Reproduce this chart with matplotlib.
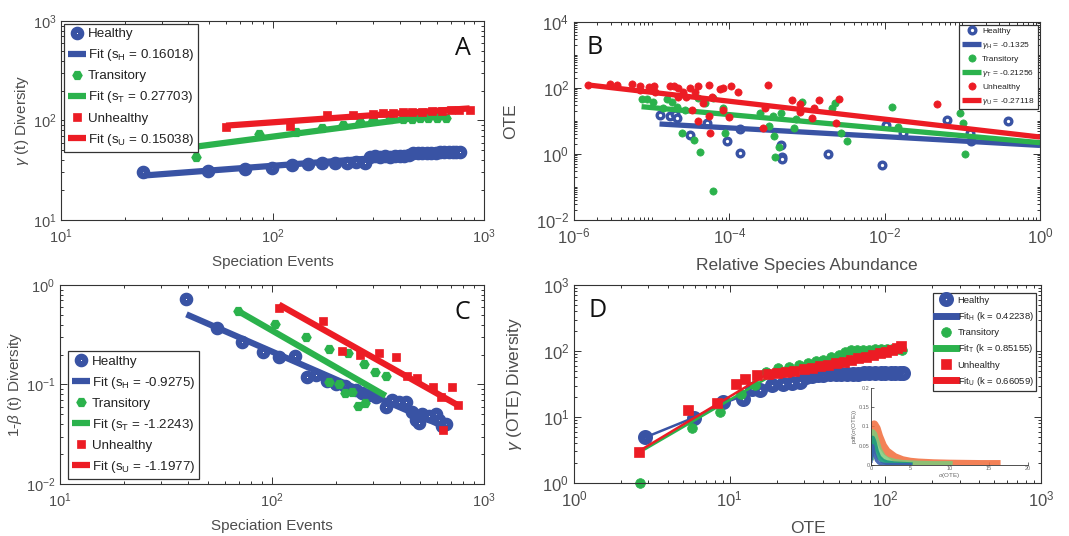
import numpy as np
import matplotlib
matplotlib.use("Agg")
import matplotlib.pyplot as plt
from matplotlib.ticker import LogLocator, FixedLocator, NullFormatter

plt.rcParams['font.family'] = ['Liberation Sans', 'DejaVu Sans']
plt.rcParams['mathtext.fontset'] = 'custom'
plt.rcParams['mathtext.rm'] = 'Liberation Sans'
plt.rcParams['mathtext.it'] = 'Liberation Sans:italic'

BLUE = '#3953a4'
GREEN = '#2bb24c'
RED = '#ec1c24'
TXT = '#4d4d4d'

# ---- panel A: gamma diversity vs speciation events
a_heal_x = [24.5, 49.3, 74, 99, 123, 147, 172, 197, 224, 249, 273, 288, 305, 321, 340, 359,
            380, 400, 420, 440, 462, 485, 510, 535, 560, 590, 620, 650, 680, 710, 740, 767]
a_heal_y = [30, 31.3, 32.2, 33, 35.6, 36.5, 37, 37.6, 37.6, 37.9, 37, 43.2, 43.5, 43.2, 43.5, 43.3,
            43.6, 43.8, 44, 44.5, 46.7, 46.9, 47.2, 47.3, 47.5, 47.6, 47.8, 47.9, 47.9, 48, 48, 47.8]
a_tran_x = [43.5, 86.5, 129, 172, 216, 259, 299, 359, 414, 454, 497, 545, 596, 664]
a_tran_y = [43.2, 72.4, 76.9, 84.4, 91, 97, 101, 103, 104, 104, 105, 105, 105, 105]
a_unhe_x = [60.3, 121, 181, 240, 299, 333, 370, 412, 458, 510, 566, 630, 700, 765, 855]
a_unhe_y = [86.3, 87.6, 113, 113, 117, 119, 120, 121, 122, 123, 124, 125, 126, 126, 127]
a_slopes = [0.16018, 0.27703, 0.15038]

# ---- panel B: OTE vs relative species abundance
b_heal_x = [1.26e-5, 1.7e-5, 2.0e-5, 2.1e-5, 3.1e-5, 5.1e-5, 9.2e-5, 1.35e-4, 1.38e-4, 4.6e-4,
            4.7e-4, 4.8e-4, 1.85e-3, 9.1e-3, 0.0103, 0.0174, 0.063, 0.126, 0.128, 0.39]
b_heal_y = [15.2, 14, 16, 12, 3.77, 8.5, 2.5, 5.6, 1.1, 1.9,
            0.83, 0.69, 0.98, 0.46, 7.6, 4.2, 10.7, 4.2, 2.5, 10.2]
b_tran_x = [7.4e-6, 8.6e-6, 1.05e-5, 1.4e-5, 1.56e-5, 1.8e-5, 2.1e-5, 2.43e-5, 2.7e-5, 3.46e-5,
            4e-5, 4.2e-5, 4.9e-5, 6.2e-5, 6.2e-5, 8.2e-5, 8.7e-5, 2.5e-4, 3.2e-4, 3.6e-4,
            3.8e-4, 3.9e-4, 4.4e-4, 4.6e-4, 6.7e-4, 7.3e-4, 8.7e-4, 2.1e-3, 2.3e-3, 2.7e-3,
            3.3e-3, 0.0126, 0.015, 0.093, 0.103, 0.108]
b_tran_y = [45, 45, 38, 24, 45, 38, 27, 4.2, 21.5, 2.65,
            48, 1.18, 34, 48, 0.078, 24, 4.2, 17, 7.2, 14.5,
            3.5, 0.79, 1.67, 17, 6, 11.2, 38, 24, 34, 4.4,
            2.4, 27, 6.7, 17, 8.9, 1.0]
b_unhe_x = [1.53e-6, 2.9e-6, 3.6e-6, 5.5e-6, 7.1e-6, 7.1e-6, 9.1e-6, 1.07e-5, 1.1e-5, 1.7e-5,
            1.95e-5, 2.2e-5, 2.2e-5, 2.5e-5, 2.8e-5, 3.1e-5, 3.3e-5, 3.6e-5, 4e-5, 4e-5,
            4.6e-5, 5.4e-5, 5.5e-5, 5.6e-5, 5.9e-5, 7.6e-5, 8.4e-5, 8.2e-5, 1e-4, 1.05e-4,
            1.3e-4, 2.7e-4, 2.9e-4, 3.1e-4, 6.4e-4, 8.1e-4, 8.2e-4, 1.15e-3, 1.22e-3, 1.44e-3,
            2.36e-3, 2.6e-3, 0.047]
b_unhe_y = [123, 128, 123, 128, 118, 87, 105, 118, 78, 115,
            118, 98, 55, 78, 55, 98, 21.6, 78, 115, 10.2,
            34, 123, 14.2, 4.4, 55, 92, 98, 21.6, 13.5, 115,
            78, 6, 24.3, 123, 43, 33, 19, 12, 24, 43,
            8.9, 45, 32]
b_slopes = [-0.1325, -0.21256, -0.27118]
b_fit_at_one = [1.82, 2.2, 3.26]   # fitted OTE at abundance 1

# ---- panel C: 1-beta diversity vs speciation events
c_heal_x = [39.5, 55.2, 71.9, 90.4, 108, 129, 147, 161, 182, 200, 222, 249, 267, 287, 308, 344,
            370, 398, 427, 460, 476, 494, 512, 550, 591, 614, 636, 660]
c_heal_y = [0.718, 0.367, 0.269, 0.214, 0.1875, 0.193, 0.12, 0.125, 0.109, 0.101, 0.097, 0.088,
            0.083, 0.078, 0.075, 0.06, 0.07, 0.066, 0.067, 0.0533, 0.044, 0.0407, 0.0505, 0.0477,
            0.0505, 0.044, 0.038, 0.04]
c_tran_x = [69.4, 103, 144, 186, 229, 272, 306, 344, 186, 207, 222, 239, 255, 275]
c_tran_y = [0.552, 0.405, 0.303, 0.227, 0.206, 0.161, 0.134, 0.122, 0.105, 0.101, 0.0815, 0.085,
            0.0613, 0.0657]
c_unhe_x = [108, 174, 215, 260, 320, 386, 434, 485, 575, 625, 705, 751, 643]
c_unhe_y = [0.583, 0.435, 0.217, 0.198, 0.206, 0.19, 0.1217, 0.115, 0.094, 0.0755, 0.095, 0.0622,
            0.0349]
c_slopes = [-0.9275, -1.2243, -1.1977]

# ---- panel D: gamma diversity vs OTE
d_heal_x = [2.86, 5.9, 9.0, 12.2, 13.8, 15.7, 18.6, 21.9, 25, 28.3, 31, 34, 37, 40, 44, 48, 52,
            57, 62, 67, 73, 79, 86, 93, 100, 108, 116, 124, 130]
d_heal_y = [4.9, 9.8, 16.9, 19, 26.3, 25.4, 30.1, 32, 33, 33.9, 40.3, 42, 43, 44, 44.5, 45, 45.2,
            45.4, 45.5, 45.5, 45.6, 45.6, 45.7, 45.7, 45.7, 45.8, 45.8, 45.8, 45.8]
d_tran_x = [2.65, 5.7, 8.66, 11.9, 14.5, 17, 20.5, 24, 28, 32, 36, 40, 45, 50, 55, 60, 66, 72,
            79, 86, 94, 102, 110, 118, 127]
d_tran_y = [1.0, 6.8, 11.7, 22.6, 30.3, 48, 55, 58, 62, 66, 70, 74, 80, 88, 97, 103, 104, 105,
            105, 106, 106, 107, 107, 108, 103]
d_unhe_x = [2.63, 5.43, 8.24, 10.97, 12.5, 14.9, 17.5, 20, 23, 26, 30, 34, 38, 43, 48, 54, 60,
            67, 75, 83, 92, 101, 110, 118, 125]
d_unhe_y = [2.97, 12.7, 16.4, 31.3, 37.8, 43.4, 45, 46, 48, 50, 53, 56, 59, 62, 65, 69, 73, 77,
            82, 87, 92, 97, 102, 110, 118]
d_fit_heal_x = [2.86, 5.9, 9.0, 12.2, 17, 25, 40, 130]
d_fit_heal_y = [4.9, 9.8, 16, 21, 30, 37, 43, 45.8]
d_fit_tran_x = [2.86, 20]
d_fit_tran_y = [3.26, 47]
d_fit_unhe_x = [2.63, 17.5]
d_fit_unhe_y = [3.07, 45]
d_k = [0.42238, 0.85155, 0.66059]

# ---- inset: pdf of sigma(OTE)
ins_x = [0, 0.2, 0.4, 0.7, 1.0, 1.5, 2, 3, 4, 5, 6, 8, 10, 12, 14, 16.5]
ins_orange = [0.03, 0.095, 0.105, 0.095, 0.075, 0.05, 0.035, 0.02, 0.012, 0.008, 0.006, 0.004,
              0.003, 0.0025, 0.002, 0.002]
ins_green = [0.02, 0.085, 0.08, 0.06, 0.04, 0.022, 0.014, 0.008, 0.005, 0.004, 0.003, 0.002, 0.002]
ins_teal = [0.02, 0.07, 0.06, 0.035, 0.02, 0.01, 0.006, 0.003, 0.002, 0.001]
ins_blue = [0.01, 0.05, 0.03, 0.012, 0.005, 0.002, 0.001, 0.001, 0.0005, 0.0005]

colors = [BLUE, GREEN, RED]
names = ['Healthy', 'Transitory', 'Unhealthy']
subs = ['H', 'T', 'U']


def fixed_slope_fit(x, y, s):
    # prefactor of y = A x^s by least squares in log space
    x = np.asarray(x, float)
    y = np.asarray(y, float)
    return np.exp(np.mean(np.log(y) - s * np.log(x)))


def style_axes(ax, xmajor, ymajor, fs):
    ax.set_xscale('log')
    ax.set_yscale('log')
    ax.xaxis.set_major_locator(FixedLocator(xmajor))
    ax.yaxis.set_major_locator(FixedLocator(ymajor))
    ax.xaxis.set_minor_locator(LogLocator(base=10, subs=np.arange(2, 10), numticks=30))
    ax.yaxis.set_minor_locator(LogLocator(base=10, subs=np.arange(2, 10), numticks=30))
    ax.xaxis.set_minor_formatter(NullFormatter())
    ax.yaxis.set_minor_formatter(NullFormatter())
    ax.tick_params(which='both', direction='in', top=True, right=True, colors='#333333',
                   labelcolor=TXT, labelsize=fs, width=0.7)
    ax.tick_params(which='major', length=5)
    ax.tick_params(which='minor', length=2.5)
    ax.tick_params(axis='x', pad=5)
    for sp in ax.spines.values():
        sp.set_color('#333333')
        sp.set_linewidth(0.8)


def make_legend(ax, fs, loc, anchor, hl, ls):
    leg = ax.legend(loc=loc, bbox_to_anchor=anchor, fontsize=fs, handlelength=hl,
                    handletextpad=0.15, labelspacing=ls, borderpad=0.3, borderaxespad=0,
                    fancybox=False, framealpha=1, edgecolor='#333333')
    leg.get_frame().set_linewidth(0.9)
    for t in leg.get_texts():
        t.set_color('#222222')
    return leg


def scatter_fit_panel(ax, data, markers, slopes, line_w, fit_ends=None, fit_amp=None):
    for i, ((x, y), c, n, sb, s, mk) in enumerate(zip(data, colors, names, subs, slopes, markers)):
        kw = dict(mk)
        kw.setdefault('mfc', c)
        ax.plot(x, y, ls='none', color=c, mec=c, label=n, **kw)
        amp = fixed_slope_fit(x, y, s) if fit_amp is None else fit_amp[i]
        hi = max(x) if fit_ends is None else fit_ends
        xf = np.array([min(x), hi])
        lab = ('Fit (s$_\\mathrm{%s}$ = %.5g)' % (sb, s)) if fit_amp is None else \
              ('$\\gamma_\\mathrm{%s}$ = %.5g' % (sb, s))
        ax.plot(xf, amp * xf ** s, color=c, lw=line_w, solid_capstyle='butt', label=lab)


fig = plt.figure(figsize=(10.69, 5.36), dpi=100)

# ---------- A
axA = fig.add_axes([0.0571, 0.5896, 0.3957, 0.3713])
mk_A = [dict(marker='o', ms=5.4, mew=4.4, mfc='white'),
        dict(marker='H', ms=6.5, mew=1.0),
        dict(marker='s', ms=5.5, mew=0.5)]
scatter_fit_panel(axA, [(a_heal_x, a_heal_y), (a_tran_x, a_tran_y), (a_unhe_x, a_unhe_y)],
                  mk_A, a_slopes, 4.5)
style_axes(axA, [10, 100, 1000], [10, 100, 1000], 10.5)
axA.set_xlim(10, 1000)
axA.set_ylim(10, 1000)
axA.set_xlabel('Speciation Events', fontsize=11, color=TXT, labelpad=7)
axA.set_ylabel(r'$\gamma$ (t) Diversity', fontsize=11, color=TXT, labelpad=1)
axA.text(0.95, 0.86, 'A', transform=axA.transAxes, fontsize=18, family='Open Sans',
         ha='center', va='center', color='#111111')
make_legend(axA, 9.6, 'upper left', (0.008, 0.985), 1.3, 0.52)

# ---------- B
axB = fig.add_axes([0.537, 0.5896, 0.4359, 0.3694])
mk_B = [dict(marker='o', ms=4.8, mew=2.4, mfc='white'),
        dict(marker='o', ms=5.2, mew=0.5),
        dict(marker='o', ms=5.2, mew=0.5)]
scatter_fit_panel(axB, [(b_heal_x, b_heal_y), (b_tran_x, b_tran_y), (b_unhe_x, b_unhe_y)],
                  mk_B, b_slopes, 3.8, fit_ends=1.0, fit_amp=b_fit_at_one)
style_axes(axB, [1e-6, 1e-4, 1e-2, 1], [1e-2, 1, 1e2, 1e4], 12)
axB.yaxis.set_minor_locator(LogLocator(base=10, subs=np.arange(1, 10), numticks=30))
axB.xaxis.set_minor_locator(LogLocator(base=10, subs=np.arange(1, 10), numticks=30))
axB.set_xlim(1e-6, 1)
axB.set_ylim(1e-2, 1e4)
axB.set_xlabel('Relative Species Abundance', fontsize=12.5, color=TXT, labelpad=8)
axB.set_ylabel('OTE', fontsize=12.5, color=TXT, labelpad=13)
axB.text(0.045, 0.87, 'B', transform=axB.transAxes, fontsize=18, family='Open Sans',
         ha='center', va='center', color='#111111')
make_legend(axB, 6.0, 'upper right', (0.995, 0.985), 2.3, 0.55)

# ---------- C
axC = fig.add_axes([0.0561, 0.097, 0.3966, 0.3713])
scatter_fit_panel(axC, [(c_heal_x, c_heal_y), (c_tran_x, c_tran_y), (c_unhe_x, c_unhe_y)],
                  mk_A, c_slopes, 4.5)
style_axes(axC, [10, 100, 1000], [1e-2, 1e-1, 1], 10.5)
axC.set_xlim(10, 1000)
axC.set_ylim(1e-2, 1)
axC.set_xlabel('Speciation Events', fontsize=11, color=TXT, labelpad=7)
axC.set_ylabel(r'1-$\beta$ (t) Diversity', fontsize=11, color=TXT, labelpad=1)
axC.text(0.95, 0.86, 'C', transform=axC.transAxes, fontsize=18, family='Open Sans',
         ha='center', va='center', color='#111111')
make_legend(axC, 9.6, 'lower left', (0.02, 0.025), 1.3, 0.52)

# ---------- D
axD = fig.add_axes([0.537, 0.0989, 0.4369, 0.3694])
d_data = [(d_heal_x, d_heal_y), (d_tran_x, d_tran_y), (d_unhe_x, d_unhe_y)]
d_fits = [(d_fit_heal_x, d_fit_heal_y), (d_fit_tran_x, d_fit_tran_y), (d_fit_unhe_x, d_fit_unhe_y)]
mk_D = [dict(marker='o', ms=6.0, mew=4.8, mfc='white'),
        dict(marker='o', ms=7.0, mew=0.5),
        dict(marker='s', ms=6.5, mew=0.5)]
for (x, y), (fx, fy), c, n, sb, k, mk in zip(d_data, d_fits, colors, names, subs, d_k, mk_D):
    kw = dict(mk)
    kw.setdefault('mfc', c)
    axD.plot(x, y, ls='none', color=c, mec=c, label=n, clip_on=False, **kw)
    axD.plot(fx, fy, color=c, lw=1.8, label='Fit$_\\mathrm{%s}$ (k = %.5g)' % (sb, k))
style_axes(axD, [1, 10, 100, 1000], [1, 10, 100, 1000], 12)
axD.set_xlim(1, 1000)
axD.set_ylim(1, 1000)
axD.set_xlabel('OTE', fontsize=12.5, color=TXT, labelpad=8)
axD.set_ylabel(r'$\gamma$ (OTE) Diversity', fontsize=12.5, color=TXT, labelpad=13)
axD.text(0.05, 0.87, 'D', transform=axD.transAxes, fontsize=18, family='Open Sans',
         ha='center', va='center', color='#111111')
legD = make_legend(axD, 6.8, 'upper right', (0.99, 0.96), 2.1, 0.55)
for h in legD.legend_handles[1::2]:
    h.set_linewidth(5)

# ---------- inset in D
axI = fig.add_axes([0.8148, 0.1325, 0.1469, 0.1437], facecolor='none')
axI.plot(ins_x, ins_orange, color='#f26b3a', lw=6, alpha=0.85, solid_capstyle='butt')
axI.plot(ins_x[:len(ins_green)], ins_green, color='#7ccb7a', lw=4.5, alpha=0.85)
axI.plot(ins_x[:len(ins_teal)], ins_teal, color='#1b9a7e', lw=3.5, alpha=0.9)
axI.plot(ins_x[:len(ins_blue)], ins_blue, color='#3c5fb0', lw=2.5, alpha=0.9)
axI.set_xlim(0, 20)
axI.set_ylim(0, 0.2)
axI.set_xticks([0, 5, 10, 15, 20])
axI.set_yticks([0, 0.05, 0.1, 0.15, 0.2])
axI.set_yticklabels(['0', '0.05', '0.1', '0.15', '0.2'])
axI.spines['top'].set_visible(False)
axI.spines['right'].set_visible(False)
for sp in ('left', 'bottom'):
    axI.spines[sp].set_linewidth(0.6)
    axI.spines[sp].set_color('#333333')
axI.tick_params(direction='in', length=2, width=0.5, labelsize=4, pad=1, colors='#333333',
                labelcolor='#666666')
axI.set_xlabel(r'$\sigma$(OTE)', fontsize=4.5, color='#666666', labelpad=0)
axI.set_ylabel(r'pdf($\sigma$(OTE))', fontsize=4.5, color='#666666', labelpad=0)

fig.savefig('out.png', dpi=100)
